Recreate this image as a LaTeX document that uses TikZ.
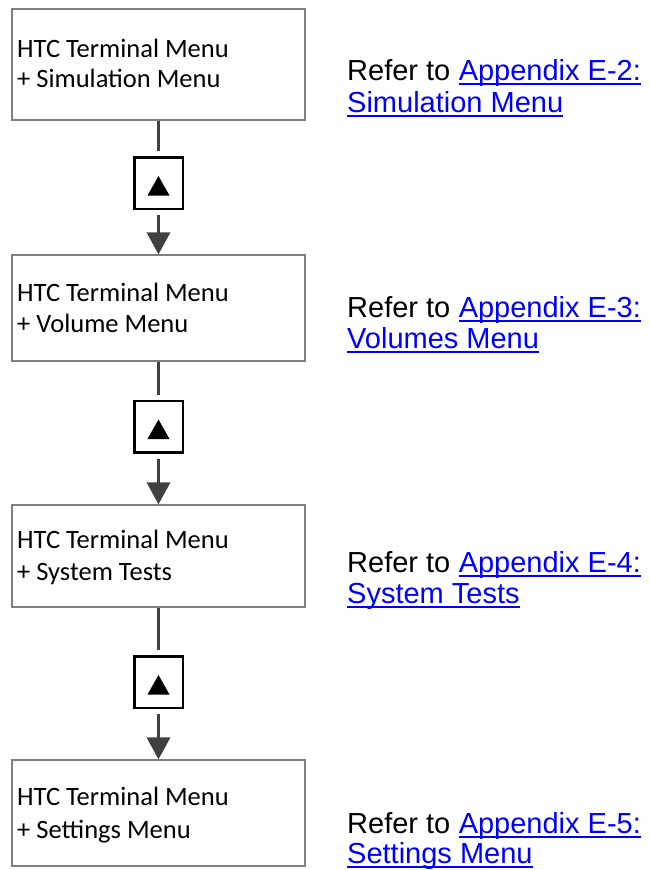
\documentclass[tikz,border=0pt]{standalone}
\usepackage{fontspec}
\setmainfont{Liberation Sans}
\newfontfamily\boxfont{Carlito}
\usetikzlibrary{arrows.meta}
\definecolor{linkblue}{RGB}{0,0,255}
\definecolor{connc}{RGB}{64,64,64}
\definecolor{boxc}{RGB}{128,128,128}
\begin{document}
\begin{tikzpicture}[x=1pt,y=-1pt,
  menubox/.style={draw=boxc, line width=1.2pt, fill=white, inner sep=0},
  keybox/.style={draw=black, line width=2.5pt, fill=white, minimum width=48.5pt, minimum height=51.5pt, inner sep=0},
  boxtext/.style={anchor=base west, inner sep=0, font=\boxfont\fontsize{26.5}{31}\selectfont},
  reftext/.style={anchor=base west, inner sep=0, font=\fontsize{29}{32}\selectfont},
  linktext/.style={reftext, text=linkblue},
  uline/.style={draw=linkblue, line width=2pt},
  conn/.style={draw=connc, line width=3.5pt},
  connarrow/.style={conn, -{Triangle[length=22pt,width=23pt]}, shorten <=5pt},
  keytri/.style={fill=black}
]
\useasboundingbox (0,0) rectangle (650,870);

% menu boxes
\node[menubox, minimum width=293pt, minimum height=111pt] (m1) at (158.5,64.5) {};
\node[menubox, minimum width=293pt, minimum height=106pt] (m2) at (158.5,308) {};
\node[menubox, minimum width=293pt, minimum height=102pt] (m3) at (158.5,556) {};
\node[menubox, minimum width=293pt, minimum height=106pt] (m4) at (158.5,813) {};

% key boxes
\node[keybox] (k1) at (158.5,183) {};
\node[keybox] (k2) at (158.5,426.5) {};
\node[keybox] (k3) at (158.5,682) {};

\foreach \k in {k1,k2,k3}{
  \fill[keytri] ([xshift=-11pt,yshift=-12.5pt]\k.center) -- ([xshift=11pt,yshift=-12.5pt]\k.center) -- ([yshift=7pt]\k.center) -- cycle;
}

% connectors
\draw[conn, shorten >=5pt] (m1.south) -- (k1.north);
\draw[connarrow] (k1.south) -- (m2.north);
\draw[conn, shorten >=5pt] (m2.south) -- (k2.north);
\draw[connarrow] (k2.south) -- (m3.north);
\draw[conn, shorten >=5pt] (m3.south) -- (k3.north);
\draw[connarrow] (k3.south) -- (m4.north);

% box texts
\node[boxtext] (b1a) at (17,57) {HTC Terminal Menu};
\node[boxtext] (b1b) at (17,87) {+ Simulation Menu};
\node[boxtext] (b2a) at (17,301) {HTC Terminal Menu};
\node[boxtext] (b2b) at (17,332) {+ Volume Menu};
\node[boxtext] (b3a) at (17,548) {HTC Terminal Menu};
\node[boxtext] (b3b) at (17,580) {+ System Tests};
\node[boxtext] (b4a) at (17,805) {HTC Terminal Menu};
\node[boxtext] (b4b) at (17,838) {+ Settings Menu};

% references
\node[reftext] (r1) at (347,80) {Refer to};
\node[linktext, xshift=8pt] (l1a) at (r1.base east) {Appendix E-2:};
\node[linktext] (l1b) at (347,112) {Simulation Menu};

\node[reftext] (r2) at (347,317) {Refer to};
\node[linktext, xshift=8pt] (l2a) at (r2.base east) {Appendix E-3:};
\node[linktext] (l2b) at (347,348) {Volumes Menu};

\node[reftext] (r3) at (347,572) {Refer to};
\node[linktext, xshift=8pt] (l3a) at (r3.base east) {Appendix E-4:};
\node[linktext] (l3b) at (347,603) {System Tests};

\node[reftext] (r4) at (347,833) {Refer to};
\node[linktext, xshift=8pt] (l4a) at (r4.base east) {Appendix E-5:};
\node[linktext] (l4b) at (347,863) {Settings Menu};

\foreach \l in {l1a,l1b,l2a,l2b,l3a,l3b,l4a,l4b}{
  \draw[uline] ([yshift=-3.5pt]\l.base west) -- ([yshift=-3.5pt]\l.base east);
}
\end{tikzpicture}
\end{document}
